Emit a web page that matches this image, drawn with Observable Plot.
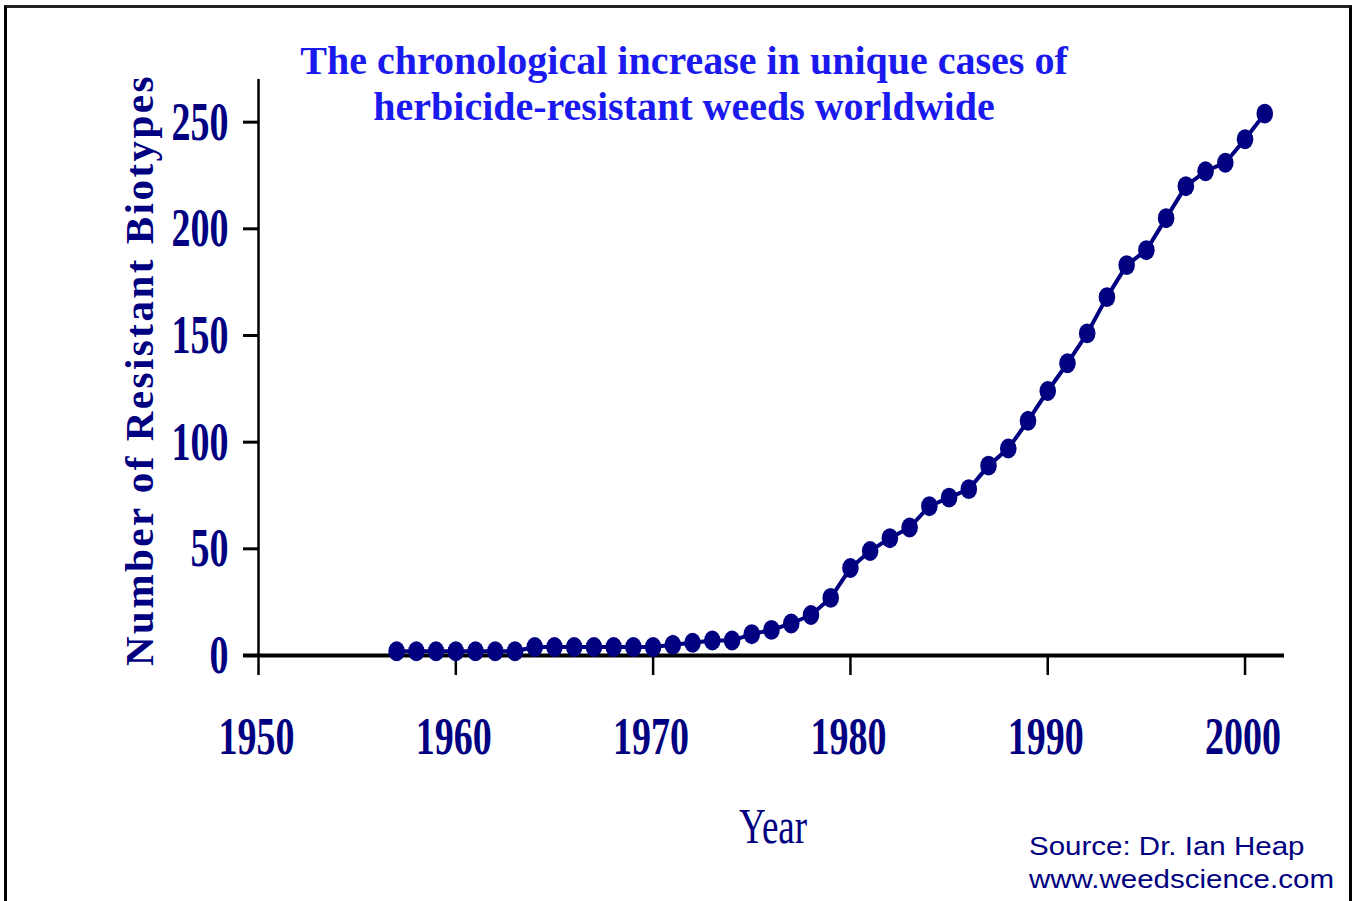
<!DOCTYPE html>
<html><head><meta charset="utf-8">
<script src="https://cdn.jsdelivr.net/npm/d3@7"></script>
<script src="https://cdn.jsdelivr.net/npm/@observablehq/plot@0.6"></script>
<style>
body{margin:0;background:#fff;}
#wrap{position:relative;width:1352px;height:901px;overflow:hidden;background:#fff;}
#frame{position:absolute;left:4px;top:5px;width:1342px;height:920px;border-top:3px solid #222;border-left:3px solid #000;border-right:3px solid #000;pointer-events:none;}
#chart{position:absolute;left:0;top:0;}
.title{position:absolute;left:184px;width:1000px;top:38px;text-align:center;font-family:"Liberation Serif","Times New Roman",serif;font-weight:bold;font-size:40px;line-height:46px;color:#1a1aee;white-space:nowrap;}
.ylab{position:absolute;left:-211px;top:348px;width:700px;height:44px;line-height:44px;text-align:center;font-family:"Liberation Serif","Times New Roman",serif;font-weight:bold;font-size:41px;letter-spacing:2.5px;color:#000080;transform:rotate(-90deg);transform-origin:50% 50%;white-space:nowrap;}
.xlab{position:absolute;left:673px;width:200px;top:814px;height:40px;line-height:40px;text-align:center;font-family:"Liberation Serif","Times New Roman",serif;font-size:37px;color:#000080;transform:scale(1,1.35);transform-origin:50% 100%;}
.source{position:absolute;left:1029px;top:830px;font-family:"Liberation Sans",Arial,sans-serif;font-size:25px;line-height:33px;color:#000080;transform:scale(1.18,1);transform-origin:0 0;white-space:nowrap;}
</style></head><body>
<div id="wrap">
  <div id="chart"></div>
  <div class="title">The chronological increase in unique cases of<br>herbicide-resistant weeds worldwide</div>
  <div class="ylab">Number of Resistant Biotypes</div>
  <div class="xlab">Year</div>
  <div class="source">Source: Dr. Ian Heap<br>www.weedscience.com</div>
  <div id="frame"></div>
</div>
<script>
const years = [1957,1958,1959,1960,1961,1962,1963,1964,1965,1966,1967,1968,1969,1970,1971,1972,1973,1974,1975,1976,1977,1978,1979,1980,1981,1982,1983,1984,1985,1986,1987,1988,1989,1990,1991,1992,1993,1994,1995,1996,1997,1998,1999,2000,2001];
const counts = [2,2,2,2,2,2,2,4,4,4,4,4,4,4,5,6,7,7,10,12,15,19,27,41,49,55,60,70,74,78,89,97,110,124,137,151,168,183,190,205,220,227,231,242,254];
const xTicks = [1950,1960,1970,1980,1990,2000];
const yTicks = [0,50,100,150,200,250];
const xDomain = [1950, 2002];
const yDomain = [0, 270];
const navy = "#000080";

const data = years.map((year, i) => ({year, count: counts[i]}));

const ovalSymbol = {
  draw(ctx, size) {
    const r = Math.sqrt(size / Math.PI);
    const n = 16;
    for (let k = 0; k < n; k++) {
      const a = 2 * Math.PI * k / n;
      const px = r * Math.cos(a), py = 1.2 * r * Math.sin(a);
      if (k) ctx.lineTo(px, py); else ctx.moveTo(px, py);
    }
    ctx.closePath();
  }
};

const tickFont = {fontFamily: "Liberation Serif, Times New Roman, serif", fontWeight: "bold", fontSize: 38, fill: navy};

const chart = Plot.plot({
  width: 1352, height: 901,
  marginLeft: 258, marginRight: 68, marginTop: 79, marginBottom: 246,
  x: {domain: xDomain, axis: null},
  y: {domain: yDomain, axis: null},
  style: {background: "transparent", overflow: "visible"},
  marks: [
    Plot.ruleX([xDomain[0]], {stroke: "#000", strokeWidth: 2.5}),
    Plot.ruleY([yDomain[0]], {stroke: "#000", strokeWidth: 4, insetLeft: -15}),
    Plot.ruleY(yTicks, {x1: xDomain[0], x2: xDomain[0], insetLeft: -15, stroke: "#000", strokeWidth: 3}),
    Plot.ruleX(xTicks, {y1: yDomain[0], y2: yDomain[0], insetBottom: -20, stroke: "#000", strokeWidth: 2.5}),
    Plot.text(yTicks, {x: xDomain[0], y: d => d, text: d => String(d), textAnchor: "end", dx: -30, ...tickFont}),
    Plot.text(xTicks, {x: d => d, y: yDomain[0], text: d => String(d), dy: 82, dx: -2, ...tickFont}),
    Plot.line(data, {x: "year", y: "count", stroke: navy, strokeWidth: 4}),
    Plot.dot(data, {x: "year", y: "count", r: 8.3, fill: navy, symbol: ovalSymbol})
  ]
});
document.getElementById("chart").appendChild(chart);

const ySet = new Set(yTicks.map(String));
const xSet = new Set(xTicks.map(String));
d3.select(chart).selectAll("text").each(function() {
  const s = this.textContent.trim();
  let sy = null;
  if (ySet.has(s)) sy = 1.45;
  else if (xSet.has(s)) sy = 1.38;
  if (sy == null) return;
  const t = this.getAttribute("transform");
  if (t) this.setAttribute("transform", t + ` scale(1,${sy})`);
  else {
    const x = +this.getAttribute("x") || 0, y = +this.getAttribute("y") || 0;
    this.removeAttribute("x"); this.removeAttribute("y");
    this.setAttribute("transform", `translate(${x},${y}) scale(1,${sy})`);
  }
});
</script>
</body></html>
